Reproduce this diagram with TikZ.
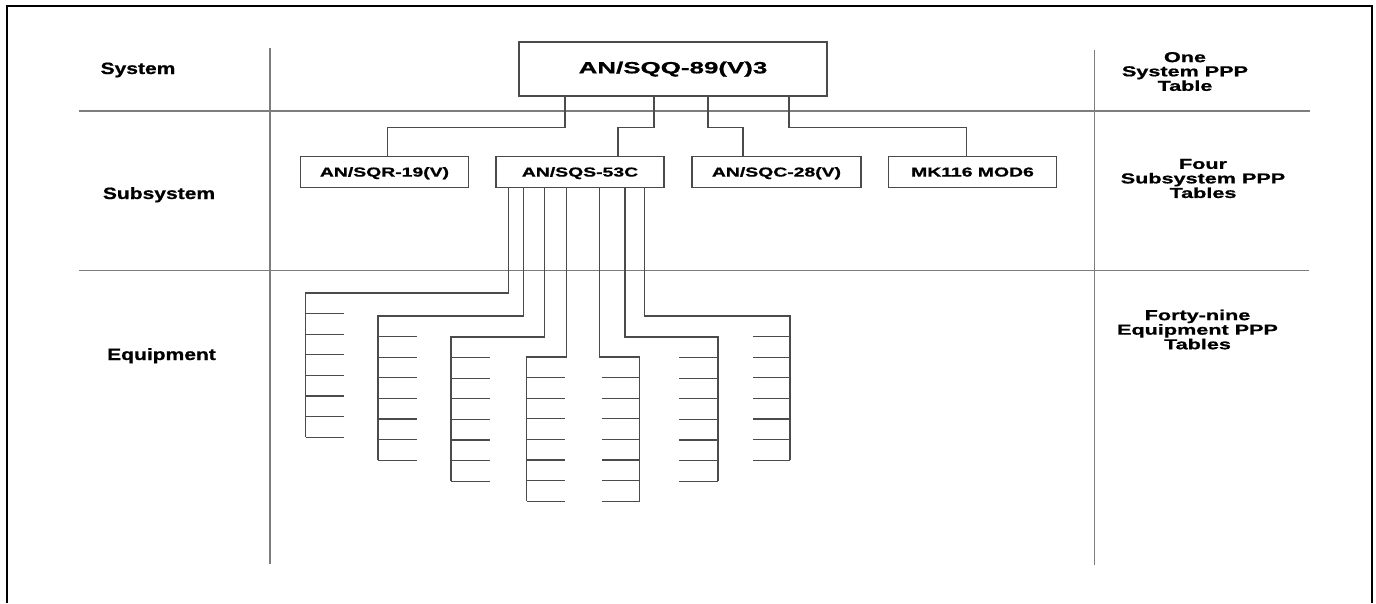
\documentclass[tikz,border=0pt]{standalone}
\usepackage{fontspec}
\setmainfont{Liberation Sans}[BoldFeatures={FakeBold=0.8}]
\usepackage{graphicx}
\definecolor{gridgray}{RGB}{125,125,125}
\definecolor{treegray}{RGB}{75,75,75}
\newcommand{\sx}[2]{\scalebox{#1}[1]{#2}}
\begin{document}
\begin{tikzpicture}[x=1pt,y=-1pt,
  grid/.style={draw=gridgray,line width=1.3pt},
  tree/.style={draw=treegray,line width=1.2pt},
  frame/.style={draw=black,line width=2pt},
  topbox/.style={draw=treegray,line width=1.2pt,inner sep=0pt,outer sep=0pt,
    minimum width=308pt,minimum height=54pt,text height=11.7pt,text depth=3pt,
    font=\fontsize{16.3}{18}\selectfont\bfseries},
  subbox/.style={draw=treegray,line width=1.2pt,inner sep=0pt,outer sep=0pt,
    minimum height=31pt,text height=9.3pt,text depth=0pt,
    font=\fontsize{13}{15}\selectfont\bfseries},
  lab/.style={anchor=base,inner sep=0pt,font=\fontsize{16.3}{18}\selectfont\bfseries},
  note/.style={inner sep=0pt,font=\fontsize{14.4}{13.7}\selectfont\bfseries}
]
\useasboundingbox (0,0) rectangle (1376,603);
% outer frame
\draw[frame] (7,603) -- (7,6) -- (1372,6) -- (1372,603);
% grid
\draw[grid] (79,111) -- (1310,111);
\draw[grid] (79,270.7) -- (1309,270.7);
\draw[grid] (270,48) -- (270,564);
\draw[grid] (1094.7,50) -- (1094.7,565);
% level labels
\node[lab] (lsys) at (138,74) {\sx{1.29}{System}};
\node[lab] (lsub) at (159,199) {\sx{1.29}{Subsystem}};
\node[lab] (lequ) at (161.5,360) {\sx{1.29}{Equipment}};
% right notes
\node[note] (nsys) at (1185,73.5) {\sx{1.5}{\begin{tabular}{@{}c@{}}One\\System PPP\\Table\end{tabular}}};
\node[note] (nsub) at (1203,180.5) {\sx{1.5}{\begin{tabular}{@{}c@{}}Four\\Subsystem PPP\\Tables\end{tabular}}};
\node[note] (nequ) at (1197.5,331.5) {\sx{1.5}{\begin{tabular}{@{}c@{}}Forty-nine\\Equipment PPP\\Tables\end{tabular}}};
% boxes
\node[topbox] (top) at (673,69) {\sx{1.59}{AN/SQQ-89(V)3}};
\node[subbox,minimum width=167.6pt] (sqr) at (384.5,171.9) {\sx{1.49}{AN/SQR-19(V)}};
\node[subbox,minimum width=168pt] (sqs) at (580,171.9) {\sx{1.49}{AN/SQS-53C}};
\node[subbox,minimum width=169pt] (sqc) at (776.5,171.9) {\sx{1.49}{AN/SQC-28(V)}};
\node[subbox,minimum width=168.4pt] (mk) at (972.5,171.9) {\sx{1.49}{MK116 MOD6}};
% system to subsystem connectors
\draw[tree] ([xshift=46pt]top.south west) -- ++(0,31.5) -| ([xshift=2.8pt]sqr.north);
\draw[tree] ([xshift=135pt]top.south west) -- ++(0,31.5) -| ([xshift=38pt]sqs.north);
\draw[tree] ([xshift=189pt]top.south west) -- ++(0,31.5) -| ([xshift=-33.5pt]sqc.north);
\draw[tree] ([xshift=270pt]top.south west) -- ++(0,31.5) -| ([xshift=-5.8pt]mk.north);
% equipment columns
\foreach \dx/\cy/\cx/\tx [count=\i] in {
  12.7/293/305.7/344,
  27.7/316/378/416.7,
  48.7/337/451/490,
  70.7/357/526.7/565,
  103.5/357/639.5/601.7,
  129/337/718/679,
  148.7/316/790/752.7}{
  \coordinate (c\i) at (\cx,\cy);
  \draw[tree] ([xshift=\dx pt]sqs.south west) |- (c\i) -- ++(0,144.2);
  \foreach \k in {1,...,7}
    \draw[tree] (\cx,{\cy+20.6*\k}) -- (\tx,{\cy+20.6*\k});
}
\end{tikzpicture}
\end{document}
